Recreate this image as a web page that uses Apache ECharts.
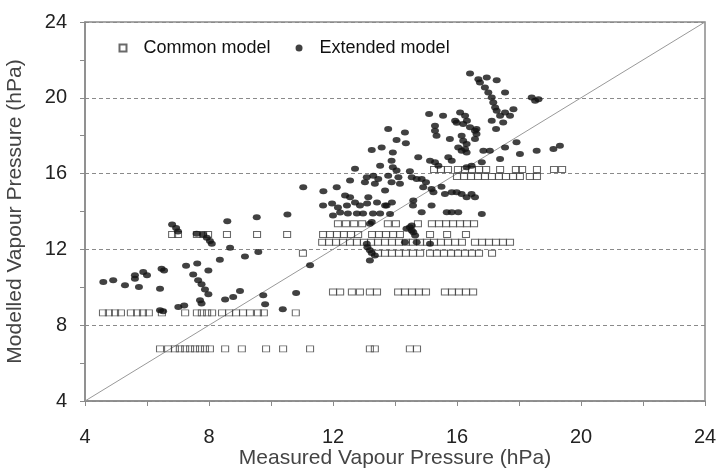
<!DOCTYPE html>
<html>
<head>
<meta charset="utf-8">
<script src="https://cdn.jsdelivr.net/npm/echarts@6/dist/echarts.min.js"></script>
<style>html,body{margin:0;padding:0;background:#fff}#c{width:717px;height:470px}</style>
</head>
<body>
<div id="c"></div>
<script>
// ---- data ----
var xTicks = [4, 8, 12, 16, 20, 24];
var yTicks = [4, 8, 12, 16, 20, 24];
var diagonal = [4, 24];

// Common model (hollow squares)
var commonX = [
  6.42,6.68,6.9,7.06,7.23,7.39,7.55,7.71,7.87,8.03,8.52,9.06,9.84,10.39,11.26,13.19,13.35,14.48,14.71,
  4.58,4.77,4.97,5.16,5.48,5.68,5.87,6.06,6.48,7.23,7.61,7.77,7.94,8.1,8.42,8.65,8.87,9.1,9.32,9.58,9.77,10.8,
  12.0,12.23,12.61,12.87,13.19,13.42,14.1,14.32,14.55,14.77,15.0,15.61,15.84,16.06,16.29,16.52,
  11.03,13.45,13.68,13.9,14.13,14.35,14.58,14.81,15.13,15.35,15.58,15.81,16.03,16.26,16.48,16.71,17.13,
  11.65,11.87,12.1,12.32,12.55,12.77,13.0,13.23,13.45,13.68,13.9,14.13,14.35,14.58,14.81,15.03,15.26,15.48,15.71,15.94,16.16,16.58,16.81,17.03,17.26,17.48,17.71,
  6.81,7.0,7.61,7.81,7.97,8.58,9.55,10.52,11.68,11.9,12.13,12.35,12.58,12.81,13.26,13.48,13.71,13.94,14.16,15.13,15.68,16.29,
  12.16,12.42,12.68,12.94,13.77,14.03,14.74,15.19,15.42,15.65,15.87,16.1,16.32,16.55,
  16.0,16.23,16.45,16.68,16.9,17.13,17.35,17.58,17.81,18.03,18.35,18.58,
  15.26,15.48,15.71,16.03,16.26,16.48,16.71,16.94,17.39,17.9,18.1,18.58,19.13,19.39
];
var commonY = [
  6.75,6.75,6.75,6.75,6.75,6.75,6.75,6.75,6.75,6.75,6.75,6.75,6.75,6.75,6.75,6.75,6.75,6.75,6.75,
  8.65,8.65,8.65,8.65,8.65,8.65,8.65,8.65,8.65,8.65,8.65,8.65,8.65,8.65,8.65,8.65,8.65,8.65,8.65,8.65,8.65,8.65,
  9.75,9.75,9.75,9.75,9.75,9.75,9.75,9.75,9.75,9.75,9.75,9.75,9.75,9.75,9.75,9.75,
  11.8,11.8,11.8,11.8,11.8,11.8,11.8,11.8,11.8,11.8,11.8,11.8,11.8,11.8,11.8,11.8,11.8,
  12.38,12.38,12.38,12.38,12.38,12.38,12.38,12.38,12.38,12.38,12.38,12.38,12.38,12.38,12.38,12.38,12.38,12.38,12.38,12.38,12.38,12.38,12.38,12.38,12.38,12.38,12.38,
  12.79,12.79,12.79,12.79,12.79,12.79,12.79,12.79,12.79,12.79,12.79,12.79,12.79,12.79,12.79,12.79,12.79,12.79,12.79,12.79,12.79,12.79,
  13.35,13.35,13.35,13.35,13.35,13.35,13.35,13.35,13.35,13.35,13.35,13.35,13.35,13.35,
  15.85,15.85,15.85,15.85,15.85,15.85,15.85,15.85,15.85,15.85,15.85,15.85,
  16.22,16.22,16.22,16.22,16.22,16.22,16.22,16.22,16.22,16.22,16.22,16.22,16.22,16.22
];

// Extended model (filled dots)
var extendedX = [
  4.59,4.91,5.29,5.61,5.61,5.74,5.88,6.0,6.42,6.47,6.55,6.42,6.52,6.81,6.94,7.0,7.01,7.2,7.26,7.49,
  7.62,7.65,7.76,7.87,7.98,7.71,7.76,7.6,7.81,7.93,8.03,8.09,7.98,8.35,8.52,8.59,8.68,8.78,9.0,9.16,
  9.54,9.59,9.75,9.81,10.38,10.81,10.53,11.26,11.04,11.69,12.12,12.39,12.55,13.14,13.68,12.55,
  13.78,14.32,14.05,14.35,13.57,13.25,13.93,14.75,13.89,12.71,13.52,13.93,13.09,13.3,13.46,13.78,
  14.05,14.11,14.48,14.54,14.7,14.86,13.03,13.35,13.89,14.16,14.91,
  11.68,11.97,12.16,12.45,12.71,12.87,13.1,13.42,13.68,13.9,12.0,12.23,12.48,12.77,12.97,13.29,13.52,
  14.58,14.86,15.18,15.18,14.48,14.54,14.65,14.32,14.7,15.13,13.09,13.11,13.19,13.25,13.35,13.19,
  13.25,13.19,14.37,14.54,14.59,13.73,13.84,14.59,
  16.42,16.69,16.74,16.96,17.28,16.9,17.01,17.12,17.17,17.23,17.28,17.55,18.41,18.52,18.63,17.82,
  17.55,17.39,17.71,17.12,17.49,17.26,15.1,15.55,16.1,16.26,16.32,16.2,16.42,16.58,16.63,15.94,
  15.99,15.29,15.29,15.34,15.77,16.15,16.2,16.31,16.26,16.31,16.63,16.58,16.04,16.15,15.13,15.29,
  15.72,15.83,16.47,16.31,16.8,16.85,17.06,17.39,17.55,17.92,18.03,18.57,19.11,19.32,
  15.61,15.83,15.99,16.15,16.31,16.47,16.58,15.24,15.67,15.83,16.04,16.8,15.4,15.5,15.0
];
var extendedY = [
  10.28,10.37,10.11,10.63,10.45,10.02,10.81,10.63,9.92,10.98,10.89,8.79,8.74,13.32,13.13,12.95,8.96,9.04,11.14,10.68,
  11.25,10.37,10.16,9.89,9.63,9.32,9.14,12.83,12.79,12.62,12.44,12.3,10.89,11.46,9.35,13.49,12.09,9.49,9.81,11.63,
  13.7,11.86,9.58,9.11,8.84,9.7,13.84,11.16,15.28,15.07,15.28,14.84,14.75,14.75,15.11,15.63,
  18.35,18.17,17.77,17.6,17.38,17.25,17.12,16.86,16.68,16.25,16.42,16.33,15.81,15.89,15.72,15.89,
  16.16,15.81,16.12,15.81,15.72,15.72,15.54,15.46,15.54,15.46,15.28,
  14.32,14.42,14.21,14.32,14.47,14.32,14.42,14.47,14.32,14.47,13.79,13.95,13.89,13.89,13.89,13.89,13.89,
  14.32,13.96,15.19,14.32,13.17,13.0,12.74,12.38,12.38,12.3,12.3,12.12,11.95,11.81,11.68,11.42,
  13.44,13.35,13.09,13.26,12.91,14.32,13.87,14.58,
  21.28,20.98,20.81,21.07,20.93,20.54,20.28,20.02,19.75,19.49,19.32,20.28,20.02,19.84,19.93,19.4,
  19.23,19.05,19.05,18.79,18.7,18.35,19.14,19.05,19.23,19.05,18.79,18.62,18.44,18.26,18.35,18.79,
  18.68,18.53,18.26,18.0,17.82,18.0,17.74,17.56,17.3,17.12,18.09,17.82,17.38,17.21,16.68,16.6,
  16.86,16.68,16.42,16.33,16.6,17.21,17.21,16.77,17.38,17.65,17.04,17.21,17.3,17.47,
  14.93,15.02,15.02,14.93,14.75,14.93,14.75,15.02,13.96,13.96,13.96,13.87,16.42,15.3,15.55
];

function zip(xs, ys) { var out = []; for (var i = 0; i < xs.length; i++) out.push([xs[i], ys[i]]); return out; }

var chart = echarts.init(document.getElementById('c'), null, { renderer: 'canvas' });
var axisGray = '#8a8a8a';
var font = 'Liberation Sans, Arial, sans-serif';

chart.setOption({
  animation: false,
  backgroundColor: '#fff',
  grid: { left: 85, right: 12, top: 22, bottom: 69, show: true, borderColor: axisGray, borderWidth: 1.5,
          containLabel: false, outerBoundsMode: 'none' },
  legend: {
    left: 113.5, top: 34,
    itemWidth: 7, itemHeight: 7, itemGap: 25,
    textStyle: { fontFamily: font, fontSize: 18, color: '#111', padding: [0, 0, 0, 12] },
    data: [{ name: 'Common model', icon: 'rect' }, { name: 'Extended model', icon: 'circle' }]
  },
  xAxis: {
    type: 'value', min: xTicks[0], max: xTicks[xTicks.length - 1], interval: 4,
    name: 'Measured Vapour Pressure (hPa)', nameLocation: 'middle', nameGap: 47, nameMoveOverlap: false,
    nameTextStyle: { fontFamily: font, fontSize: 21, color: '#444' },
    axisLine: { lineStyle: { color: axisGray, width: 1.5 } },
    axisTick: { inside: false, length: 5, lineStyle: { color: axisGray } },
    minorTick: { show: true, splitNumber: 2, length: 5, lineStyle: { color: axisGray } },
    axisLabel: { fontFamily: font, fontSize: 20, color: '#222', margin: 26 },
    splitLine: { show: false }
  },
  yAxis: {
    type: 'value', min: yTicks[0], max: yTicks[yTicks.length - 1], interval: 4,
    name: 'Modelled Vapour Pressure (hPa)', nameLocation: 'middle', nameGap: 59, nameMoveOverlap: false,
    nameTextStyle: { fontFamily: font, fontSize: 21, color: '#444' },
    axisLine: { lineStyle: { color: axisGray, width: 1.5 } },
    axisTick: { inside: false, length: 5, lineStyle: { color: axisGray } },
    minorTick: { show: true, splitNumber: 2, length: 5, lineStyle: { color: axisGray } },
    axisLabel: { fontFamily: font, fontSize: 20, color: '#222', margin: 18 },
    splitLine: { show: true, lineStyle: { color: axisGray, type: [4, 3], width: 1 } }
  },
  series: [
    {
      name: '1:1', type: 'line', data: [[diagonal[0], diagonal[0]], [diagonal[1], diagonal[1]]],
      symbol: 'none', lineStyle: { color: '#999', width: 1 }, silent: true, z: 1
    },
    {
      name: 'Common model', type: 'scatter', data: zip(commonX, commonY),
      symbol: 'rect', symbolSize: [7, 6],
      itemStyle: { color: 'rgba(255,255,255,0)', borderColor: '#444', borderWidth: 1 }, z: 2
    },
    {
      name: 'Extended model', type: 'scatter', data: zip(extendedX, extendedY),
      symbol: 'circle', symbolSize: [8, 6],
      itemStyle: { color: '#111' }, z: 3
    }
  ]
});
</script>
</body>
</html>
